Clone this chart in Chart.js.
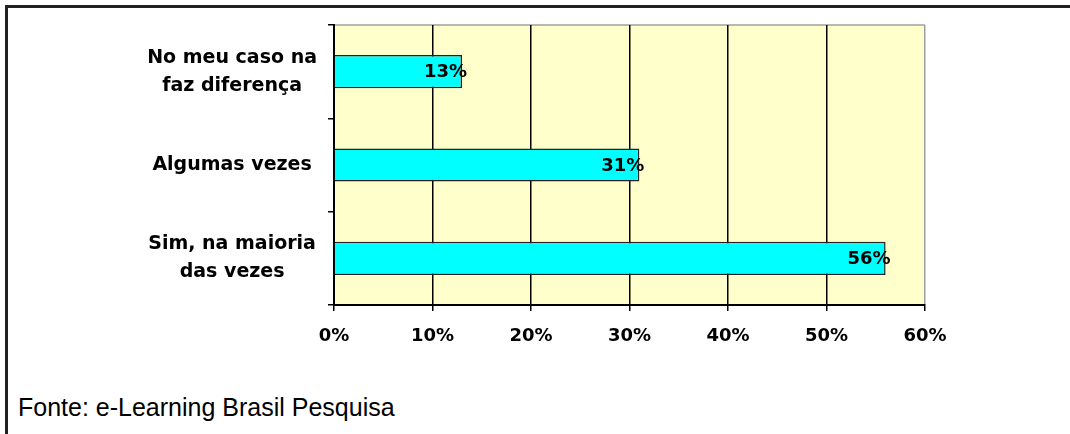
<!DOCTYPE html>
<html>
<head>
<meta charset="utf-8">
<script src="https://cdn.jsdelivr.net/npm/chart.js@4/dist/chart.umd.min.js"></script>
<style>
  html, body { margin: 0; padding: 0; background: #fff; }
  body { width: 1070px; height: 434px; position: relative; overflow: hidden; }
  #wrap { position: absolute; left: 0; top: 0; width: 1070px; height: 360px; }
  .topline { position: absolute; left: 5px; top: 5px; width: 1065px; height: 3px; background: #222; }
  .leftline { position: absolute; left: 5px; top: 5px; width: 3px; height: 429px; background: #222; }
  #source { position: absolute; left: 18px; top: 395px; font: 25px/25px "Liberation Sans", Arial, sans-serif; color: #000; }
</style>
</head>
<body>
<div class="topline"></div>
<div class="leftline"></div>
<div id="wrap"><canvas id="myChart"></canvas></div>
<div id="source">Fonte: e-Learning Brasil Pesquisa</div>
<script>
const categories = [
    ['No meu caso na', 'faz diferença'],
    'Algumas vezes',
    ['Sim, na maioria', 'das vezes']
];
const values = [13, 31, 56];
const xTicks = [0, 10, 20, 30, 40, 50, 60];

const catFont = { family: 'DejaVu Sans', size: 19, weight: 'bold', lineHeight: '28px' };
const tickFont = { family: 'DejaVu Sans', size: 18, weight: 'bold' };

// yellow plot background + grey frame on top
const plotBg = {
    id: 'plotBg',
    beforeDraw(chart) {
        const a = chart.chartArea;
        const ctx = chart.ctx;
        ctx.save();
        ctx.fillStyle = '#ffffcc';
        ctx.fillRect(a.left, a.top, a.right - a.left, a.bottom - a.top);
        ctx.strokeStyle = '#a0a0a0';
        ctx.lineWidth = 1.5;
        ctx.beginPath();
        ctx.moveTo(a.left, a.top);
        ctx.lineTo(a.right, a.top);
        ctx.stroke();
        ctx.restore();
    }
};

// value labels at the bar end
const barLabels = {
    id: 'barLabels',
    afterDatasetsDraw(chart) {
        const ctx = chart.ctx;
        const meta = chart.getDatasetMeta(0);
        ctx.save();
        ctx.font = 'bold 18px "DejaVu Sans"';
        ctx.fillStyle = '#000';
        ctx.textAlign = 'right';
        ctx.textBaseline = 'middle';
        meta.data.forEach(function(bar, i) {
            ctx.fillText(values[i] + '%', bar.x + 5, bar.y + 1);
        });
        ctx.restore();
    }
};

const ctx = document.getElementById('myChart').getContext('2d');
new Chart(ctx, {
    type: 'bar',
    data: {
        labels: categories,
        datasets: [{
            data: values,
            backgroundColor: '#00ffff',
            borderColor: '#222',
            borderWidth: 1.5,
            barPercentage: 0.355,
            categoryPercentage: 1
        }]
    },
    options: {
        indexAxis: 'y',
        responsive: true,
        maintainAspectRatio: false,
        animation: false,
        layout: { padding: { left: 10, top: 25, right: 145, bottom: 0 } },
        plugins: {
            legend: { display: false },
            tooltip: { enabled: false }
        },
        scales: {
            x: {
                min: 0,
                max: 60,
                afterFit(scale) { scale.height = 55; },
                afterBuildTicks(scale) { scale.ticks = xTicks.map(v => ({ value: v })); },
                grid: {
                    color: c => (c.tick && c.tick.value === 60) ? '#a0a0a0' : '#000',
                    lineWidth: 1.5,
                    tickColor: '#000',
                    tickLength: 6
                },
                border: { color: '#000', width: 2 },
                ticks: {
                    color: '#000',
                    font: tickFont,
                    padding: 15,
                    maxRotation: 0,
                    callback: v => v + '%'
                }
            },
            y: {
                afterFit(scale) {
                    scale.width = 324;
                    scale.paddingTop = 0;
                    scale.paddingBottom = 0;
                },
                grid: {
                    drawOnChartArea: false,
                    offset: true,
                    color: '#000',
                    lineWidth: 1.5,
                    tickLength: 6
                },
                border: { color: '#000', width: 2 },
                ticks: {
                    color: '#000',
                    font: catFont,
                    crossAlign: 'center',
                    padding: 11
                }
            }
        }
    },
    plugins: [plotBg, barLabels]
});
</script>
</body>
</html>
